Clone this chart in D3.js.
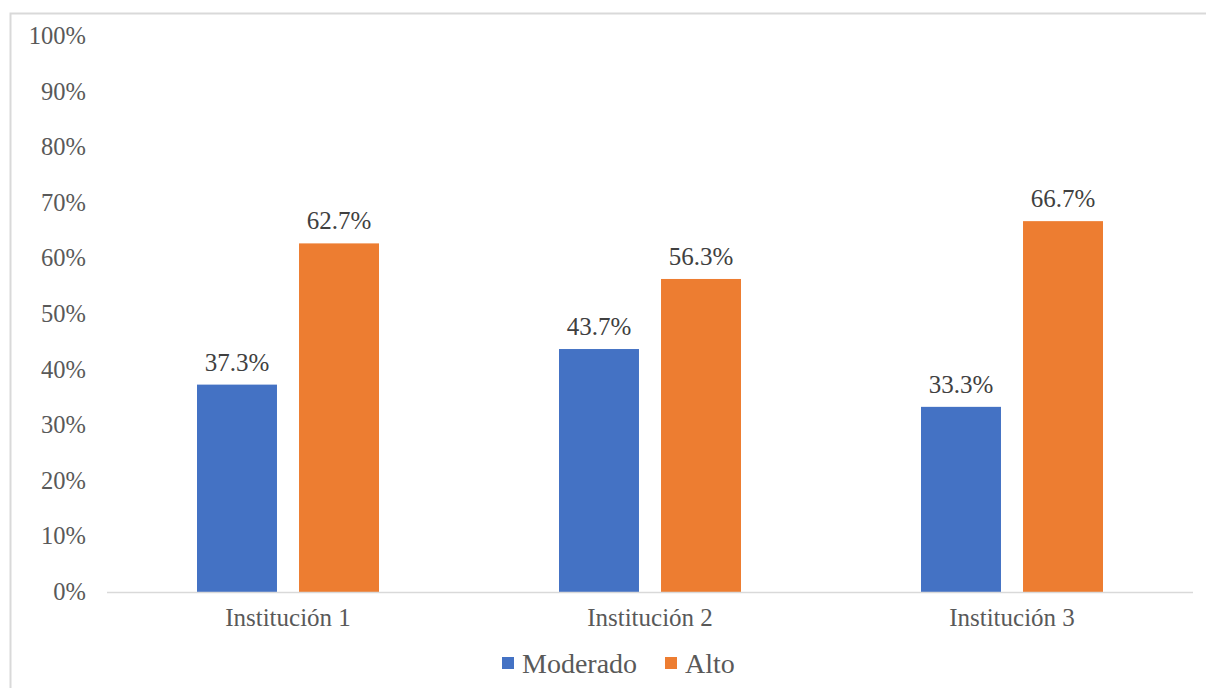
<!DOCTYPE html>
<html><head><meta charset="utf-8">
<script src="https://cdn.jsdelivr.net/npm/d3@7"></script>
<style>body{margin:0;background:#fff;} svg{display:block;} text{font-family:"Liberation Serif", serif;}</style>
</head><body>
<script>
const categories = ["Institución 1", "Institución 2", "Institución 3"];
const seriesNames = ["Moderado", "Alto"];
const moderado = [37.3, 43.7, 33.3];
const alto = [62.7, 56.3, 66.7];
const yTicks = [0,10,20,30,40,50,60,70,80,90,100];
const colors = ["#4472c4", "#ed7d31"];

const W = 1206, H = 688;
const svg = d3.select("body").append("svg").attr("width", W).attr("height", H);
svg.append("rect").attr("x", 10.5).attr("y", 13.5).attr("width", 1220).attr("height", 700)
  .attr("fill", "#fff").attr("stroke", "#d9d9d9").attr("stroke-width", 2);

const x0 = d3.scaleBand().domain(categories).range([107, 1193]).paddingInner(0).paddingOuter(0);
const x1 = d3.scaleBand().domain(seriesNames).range([90, 272]).paddingInner(0.216);
const y = d3.scaleLinear().domain([0, 100]).range([592, 36]);

svg.append("g").selectAll("text").data(yTicks).join("text")
  .attr("x", 86).attr("y", d => y(d)).attr("dy", "0.33em").attr("text-anchor", "end")
  .attr("font-size", 24.5).attr("fill", "#595959")
  .text(d => d + "%");

const data = categories.map((c, i) => ({c, vals: [moderado[i], alto[i]]}));
const groups = svg.append("g").selectAll("g").data(data).join("g")
  .attr("transform", d => `translate(${x0(d.c)},0)`);
groups.selectAll("rect").data(d => d.vals.map((v, j) => ({s: seriesNames[j], v, j}))).join("rect")
  .attr("x", d => x1(d.s)).attr("width", x1.bandwidth())
  .attr("y", d => y(d.v)).attr("height", d => y(0) - y(d.v))
  .attr("fill", d => colors[d.j]);
groups.selectAll("text.lbl").data(d => d.vals.map((v, j) => ({s: seriesNames[j], v, j}))).join("text")
  .attr("class", "lbl")
  .attr("x", d => x1(d.s) + x1.bandwidth() / 2).attr("y", d => y(d.v) - 14)
  .attr("text-anchor", "middle").attr("font-size", 25).attr("fill", "#404040")
  .text(d => d.v.toFixed(1) + "%");

svg.append("line").attr("x1", 107).attr("x2", 1193).attr("y1", 592.5).attr("y2", 592.5)
  .attr("stroke", "#d9d9d9").attr("stroke-width", 1.5);

svg.append("g").selectAll("text").data(categories).join("text")
  .attr("x", d => x0(d) + x0.bandwidth() / 2).attr("y", 626)
  .attr("text-anchor", "middle").attr("font-size", 25).attr("fill", "#595959")
  .text(d => d);

const legend = svg.append("g");
const legX = [502, 665];
seriesNames.forEach((s, i) => {
  legend.append("rect").attr("x", legX[i]).attr("y", 657).attr("width", 12).attr("height", 12).attr("fill", colors[i]);
  legend.append("text").attr("x", legX[i] + 20).attr("y", 673)
    .attr("font-size", 28).attr("fill", "#595959").text(s);
});
</script>
</body></html>
